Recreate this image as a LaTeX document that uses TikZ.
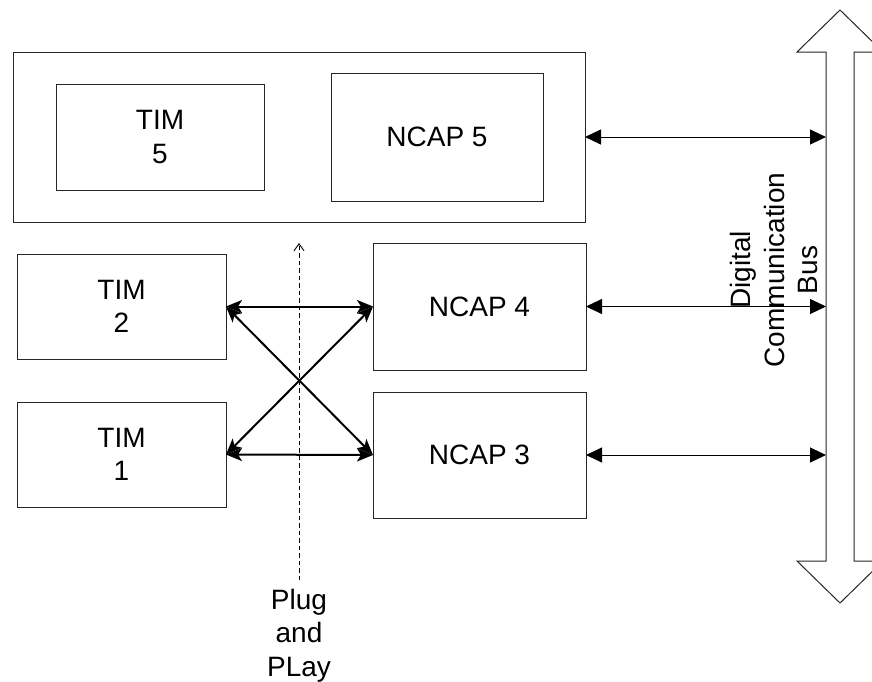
\documentclass[tikz,border=0pt]{standalone}
\usepackage{fontspec}
\setmainfont{Liberation Sans}
\usetikzlibrary{arrows.meta}
\begin{document}
\begin{tikzpicture}[x=1pt,y=-1pt,
  box/.style={draw=black!85, line width=1pt, rectangle, inner sep=0pt, outer sep=0pt, anchor=north west, align=center,
    font=\fontsize{28}{33.6}\selectfont},
  txt/.style={inner sep=0pt, align=center, font=\fontsize{28}{33.6}\selectfont},
  busarrow/.style={line width=1pt, {Triangle[length=16pt,width=15pt]}-{Triangle[length=16pt,width=15pt]}},
  crossarrow/.style={line width=2pt, {Stealth[length=16pt,width=13pt,inset=4pt]}-{Stealth[length=16pt,width=13pt,inset=4pt]}},
  plugline/.style={line width=0.9pt, dash pattern=on 4.5pt off 3pt, -{Straight Barb[length=7pt,width=10pt]}}
]
\useasboundingbox (0,0) rectangle (872,681);

% boxes
\node[box, minimum width=572pt, minimum height=170pt] (outer) at (13,52) {};
\node[box, minimum width=208pt, minimum height=106pt] (tim5) at (56,84) {TIM\\5};
\node[box, minimum width=212pt, minimum height=128pt] (ncap5) at (331,73) {NCAP 5};
\node[box, minimum width=209pt, minimum height=105pt] (tim2) at (17,254) {TIM\\2};
\node[box, minimum width=209pt, minimum height=105pt] (tim1) at (17,402) {TIM\\1};
\node[box, minimum width=213pt, minimum height=127pt] (ncap4) at (373,243) {NCAP 4};
\node[box, minimum width=213pt, minimum height=126pt] (ncap3) at (373,392) {NCAP 3};

% bus
\node[inner sep=0pt, outer sep=0pt, minimum width=28pt, minimum height=509pt, anchor=north west] (bus) at (826,52) {};
\draw[line width=1pt, black!85] (826,561) -- (826,52) -- (797,52) -- (840,10) -- (883,52) -- (854,52)
  -- (854,561) -- (883,561) -- (840,603) -- (797,561) -- cycle;
\node[txt, rotate=90] (bustext) at (774,270) {Digital\\Communication\\Bus};

% connectors to bus
\draw[busarrow] (outer.east) -- (outer.east -| bus.west);
\draw[busarrow] (ncap4.east) -- (ncap4.east -| bus.west);
\draw[busarrow] (ncap3.east) -- (ncap3.east -| bus.west);

% cross connections
\draw[crossarrow] (tim2.east) -- (ncap4.west);
\draw[crossarrow] (tim1.east) -- (ncap3.west);
\draw[crossarrow] (tim2.east) -- (ncap3.west);
\draw[crossarrow] (tim1.east) -- (ncap4.west);

% plug and play
\coordinate (pptop) at (299,243);
\coordinate (ppbot) at (299,580);
\draw[plugline] (ppbot) -- (pptop);
\node[txt] (plug) at (299,635.5) {Plug\\and\\PLay};
\end{tikzpicture}
\end{document}
